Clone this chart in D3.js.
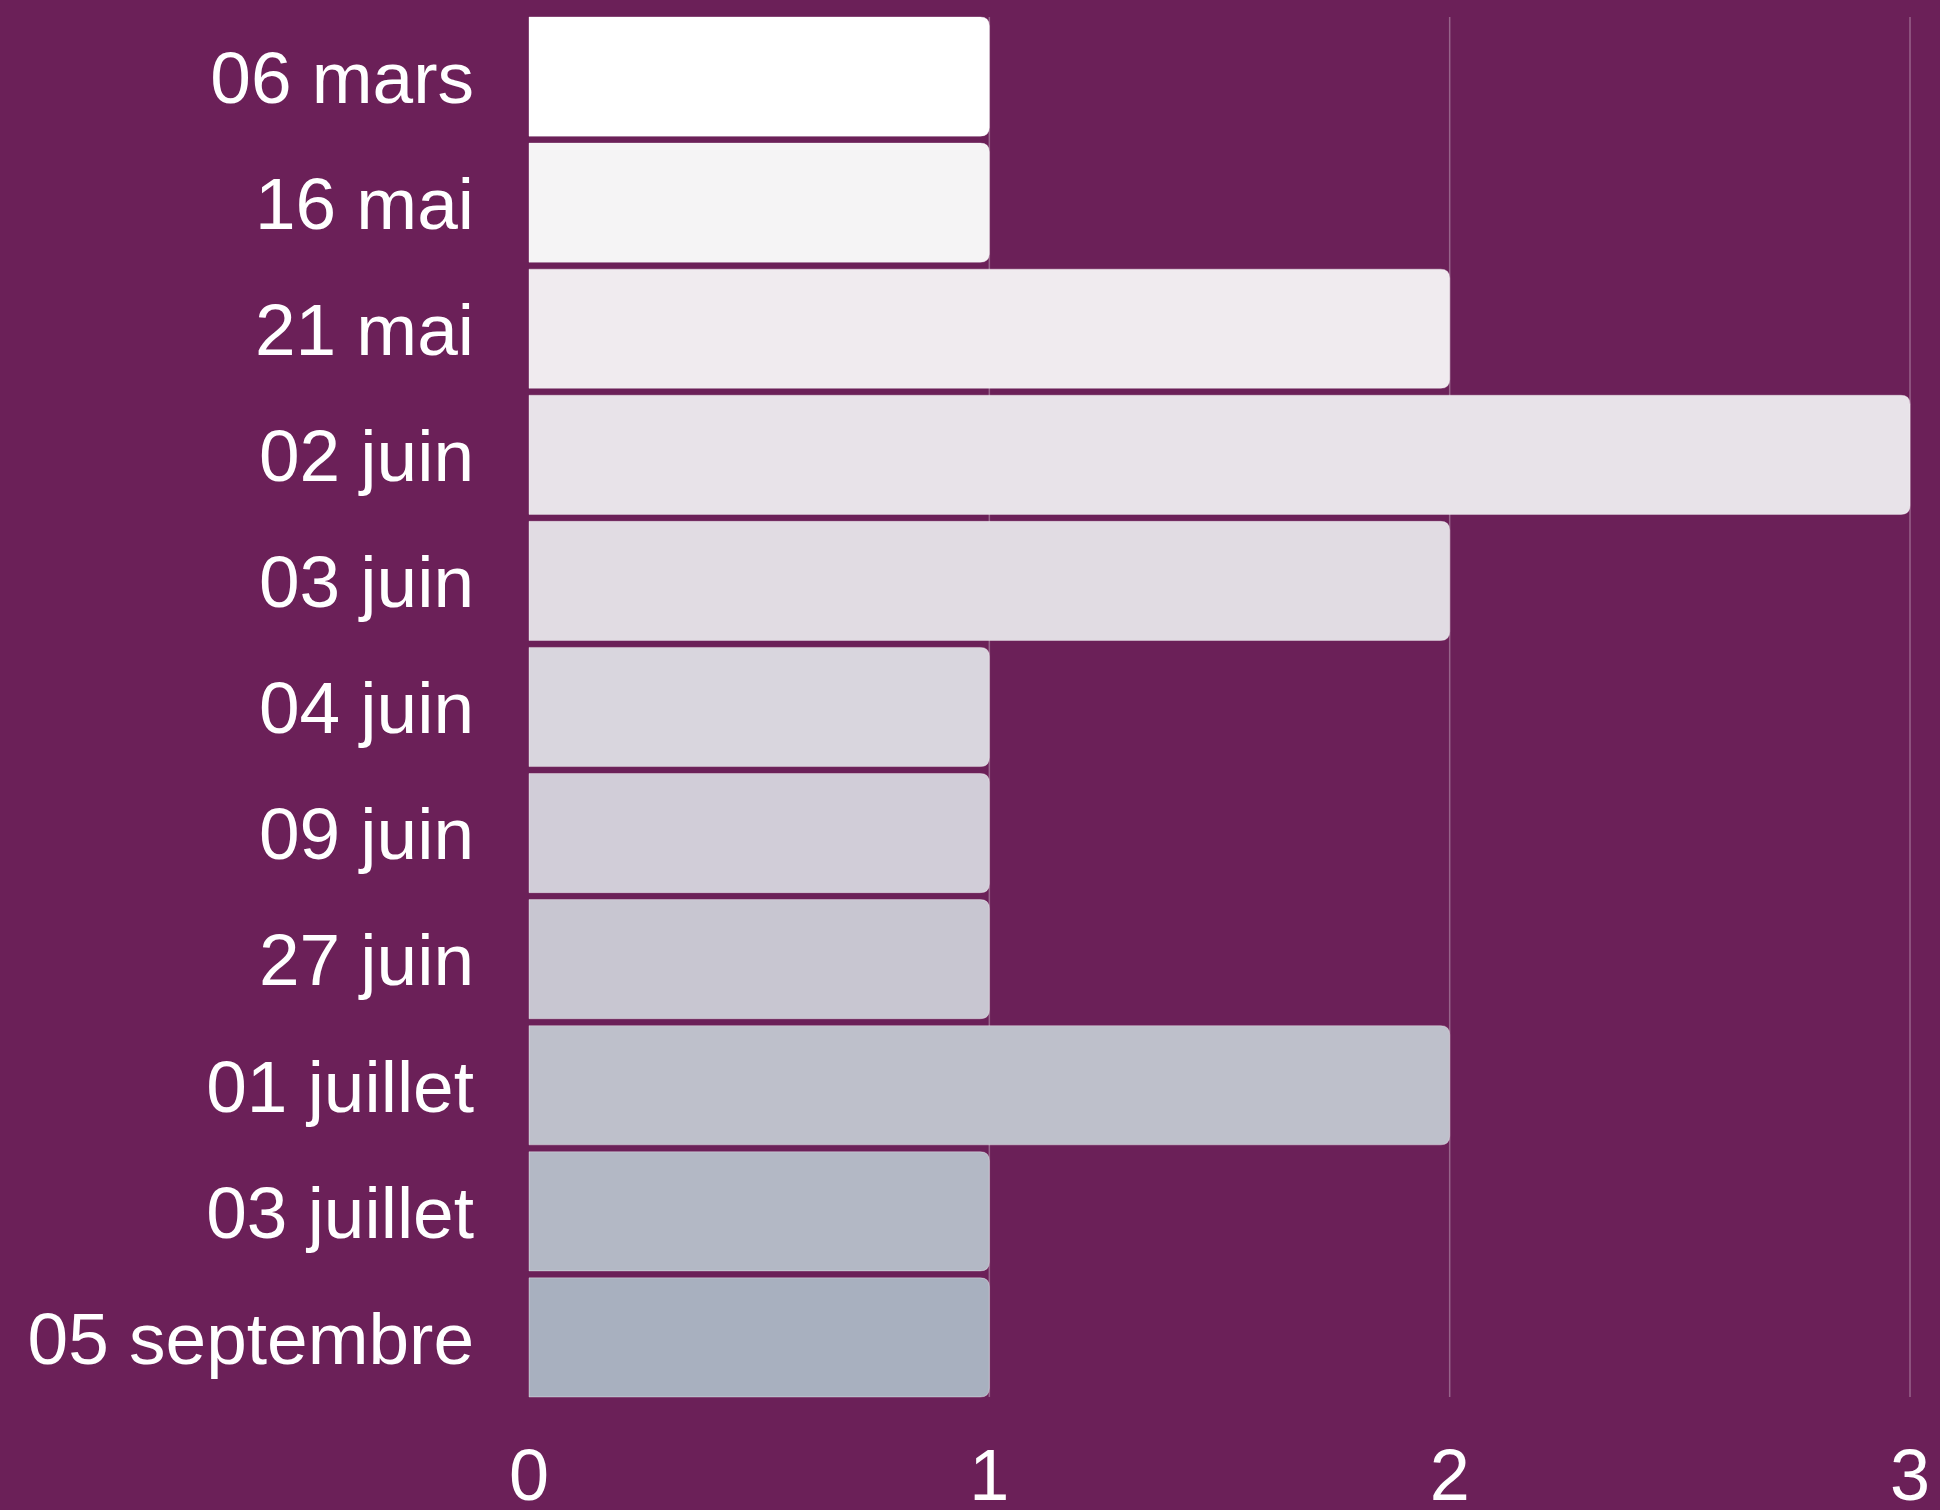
<!DOCTYPE html>
<html>
<head>
<meta charset="utf-8">
<script src="https://cdn.jsdelivr.net/npm/d3@7"></script>
<style>
  html, body { margin: 0; padding: 0; background: #6b2058; }
  svg { display: block; }
</style>
</head>
<body>
<svg id="chart" width="1940" height="1510"></svg>
<script>
// Dates (categories) and counts
var dates = ['06 mars', '16 mai', '21 mai', '02 juin', '03 juin', '04 juin',
             '09 juin', '27 juin', '01 juillet', '03 juillet', '05 septembre'];
var counts = [1, 1, 2, 3, 2, 1, 1, 1, 2, 1, 1];
var xTicks = [0, 1, 2, 3];

// Bar colours fade from white to a grey-blue through a light lavender
var palette = ['#ffffff', '#f5f4f5', '#f0ebef', '#e8e3e9', '#e1dce3', '#d9d6de',
               '#d1cdd8', '#c8c6d1', '#bec0cb', '#b3b8c5', '#a8b0bf'];

var width = 1940, height = 1510;
var margin = {top: 17, right: 30, bottom: 113, left: 529};

var svg = d3.select('#chart');

svg.append('rect')
  .attr('width', width)
  .attr('height', height)
  .attr('fill', '#6b2058');

var x = d3.scaleLinear()
  .domain([0, 3])
  .range([margin.left, width - margin.right]);

var y = d3.scaleBand()
  .domain(dates)
  .range([margin.top, height - margin.bottom])
  .paddingInner(0.055)
  .paddingOuter(0);

var color = d3.scaleOrdinal(dates, palette);

// Grid lines
svg.append('g')
  .selectAll('line')
  .data(xTicks.slice(1))
  .enter().append('line')
  .attr('x1', function(d) { return x(d); })
  .attr('x2', function(d) { return x(d); })
  .attr('y1', margin.top)
  .attr('y2', height - margin.bottom)
  .attr('stroke', 'rgba(255,255,255,0.3)')
  .attr('stroke-width', 1.5);

// Bar with rounded right corners
function barPath(d, i) {
  var x0 = x(0), x1 = x(d), y0 = y(dates[i]), h = y.bandwidth(), r = 9;
  return 'M' + x0 + ',' + y0 +
    'H' + (x1 - r) +
    'Q' + x1 + ',' + y0 + ' ' + x1 + ',' + (y0 + r) +
    'V' + (y0 + h - r) +
    'Q' + x1 + ',' + (y0 + h) + ' ' + (x1 - r) + ',' + (y0 + h) +
    'H' + x0 + 'Z';
}

svg.append('g')
  .selectAll('path')
  .data(counts)
  .enter().append('path')
  .attr('d', barPath)
  .attr('fill', function(d, i) { return color(dates[i]); })
  .attr('stroke', 'rgba(255,255,255,0.35)')
  .attr('stroke-width', 1);

// Category labels
svg.append('g')
  .selectAll('text')
  .data(dates)
  .enter().append('text')
  .attr('x', 474)
  .attr('y', function(d) { return y(d) + y.bandwidth() / 2; })
  .attr('dy', '0.36em')
  .attr('text-anchor', 'end')
  .attr('fill', '#ffffff')
  .style('font-family', '"Liberation Sans", Arial, sans-serif')
  .style('font-size', '73px')
  .text(function(d) { return d; });

// X tick labels
svg.append('g')
  .selectAll('text')
  .data(xTicks)
  .enter().append('text')
  .attr('x', function(d) { return x(d); })
  .attr('y', 1500)
  .attr('text-anchor', 'middle')
  .attr('fill', '#ffffff')
  .style('font-family', '"Liberation Sans", Arial, sans-serif')
  .style('font-size', '72px')
  .text(function(d) { return d; });
</script>
</body>
</html>
